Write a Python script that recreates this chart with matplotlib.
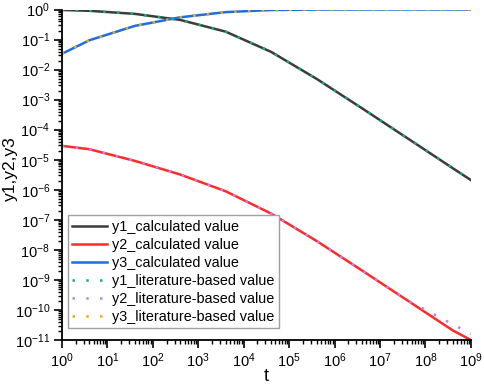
import numpy as np
import matplotlib
matplotlib.use('Agg')
import matplotlib.pyplot as plt
from matplotlib.ticker import LogLocator, NullFormatter

plt.rcParams['font.family'] = ['Liberation Sans', 'DejaVu Sans']
plt.rcParams['mathtext.default'] = 'regular'
plt.rcParams['axes.unicode_minus'] = False

# calculated values (solver output points)
t_calc = [1, 4, 40, 400, 4e3, 4e4, 4e5, 4e6, 4e7, 4e8, 1e9]
y1_calc = [0.966, 0.9055, 0.7158, 0.4505, 0.1832, 0.03898, 4.936e-3, 5.169e-4, 5.204e-5, 5.2e-6, 2.1e-6]
y2_calc = [2.9e-5, 2.24e-5, 9.185e-6, 3.223e-6, 8.942e-7, 1.622e-7, 1.985e-8, 2.068e-9, 2.08e-10, 2.08e-11, 1.0e-11]
y3_calc = [0.0335, 0.09446, 0.2842, 0.5495, 0.8168, 0.961, 0.9951, 0.9995, 0.99995, 1.0, 1.0]

# literature-based values
t_lit = [1, 4, 40, 400, 4e3, 4e4, 4e5, 4e6, 4e7, 1e9]
y1_lit = [0.966, 0.9055, 0.7158, 0.4505, 0.1832, 0.03898, 4.936e-3, 5.169e-4, 5.204e-5, 2.1e-6]
y2_lit = [2.9e-5, 2.24e-5, 9.185e-6, 3.223e-6, 8.942e-7, 1.622e-7, 1.985e-8, 2.068e-9, 2.08e-10, 1.6e-11]
y3_lit = [0.0335, 0.09446, 0.2842, 0.5495, 0.8168, 0.961, 0.9951, 0.9995, 0.99995, 1.0]

fig = plt.figure(figsize=(4.84, 3.91), dpi=100)
ax = fig.add_axes([0.128, 0.1304, 0.845, 0.8453])

lw = 1.8
ax.plot(t_calc, y1_calc, color='#3c3c3c', lw=lw, label='y1_calculated value')
ax.plot(t_calc, y2_calc, color='#ff2a2a', lw=lw, label='y2_calculated value')
ax.plot(t_calc, y3_calc, color='#1a6fe8', lw=lw, label='y3_calculated value')
dot = (0, (1, 4.5))
ax.plot(t_lit, y1_lit, color='#10b080', lw=lw, ls=dot, label='y1_literature-based value')
ax.plot(t_lit, y2_lit, color='#c080f0', lw=lw, ls=dot, label='y2_literature-based value')
ax.plot(t_lit, y3_lit, color='#f0a810', lw=lw, ls=dot, label='y3_literature-based value')

ax.set_xscale('log')
ax.set_yscale('log')
ax.set_xlim(1, 1e9)
ax.set_ylim(1e-11, 1)

ax.xaxis.set_major_locator(LogLocator(base=10, numticks=20))
ax.yaxis.set_major_locator(LogLocator(base=10, numticks=20))
ax.xaxis.set_minor_locator(LogLocator(base=10, subs=np.arange(2, 10), numticks=100))
ax.yaxis.set_minor_locator(LogLocator(base=10, subs=np.arange(2, 10), numticks=100))
ax.xaxis.set_minor_formatter(NullFormatter())
ax.yaxis.set_minor_formatter(NullFormatter())

ax.spines['top'].set_visible(False)
ax.spines['right'].set_visible(False)
for s in ['left', 'bottom']:
    ax.spines[s].set_linewidth(1.3)
ax.tick_params(which='major', direction='out', length=5.5, width=1.2, labelsize=10.5, colors='black', pad=3)
ax.tick_params(which='minor', direction='out', length=3, width=1)

ax.set_xlabel('t', fontsize=13)
ax.set_ylabel('y1,y2,y3', fontsize=12.5)
ax.xaxis.set_label_coords(0.5, -0.085)
ax.yaxis.set_label_coords(-0.108, 0.52)

leg = ax.legend(loc='lower left', bbox_to_anchor=(0.0147, 0.036), borderaxespad=0,
                fontsize=10.4, frameon=True, fancybox=False, framealpha=1,
                edgecolor='#a0a0a0', labelspacing=0.28, handlelength=2.4,
                handletextpad=0.35, borderpad=0.3)
leg.get_frame().set_linewidth(1.0)

fig.savefig('out.png', dpi=100)
